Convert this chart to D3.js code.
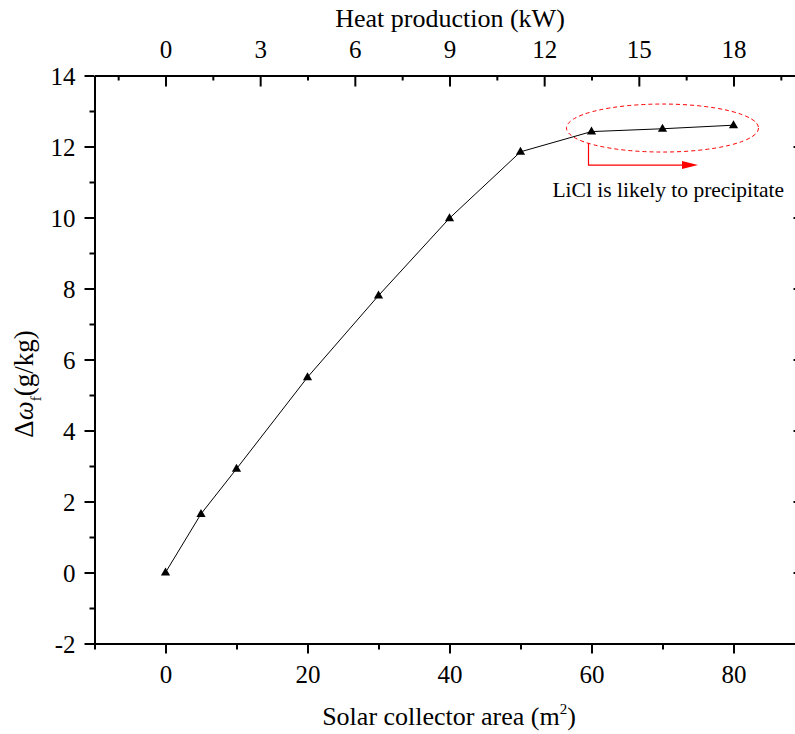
<!DOCTYPE html>
<html><head><meta charset="utf-8">
<script src="https://cdn.jsdelivr.net/npm/d3@7"></script>
<style>
body{margin:0;background:#fff;}
svg{display:block;font-family:"Liberation Serif","Times New Roman",serif;}
</style></head>
<body><svg id="c" width="795" height="734"></svg>
<script>
const area = [0, 5, 10, 20, 30, 40, 50, 60, 70, 80];
const deltaW = [0, 1.65, 2.92, 5.5, 7.8, 9.98, 11.85, 12.42, 12.5, 12.6];
const xTicks = [0, 20, 40, 60, 80];
const xMinor = [-10, 10, 30, 50, 70, 90];
const yTicks = [-2, 0, 2, 4, 6, 8, 10, 12, 14];
const yMinor = [-1, 1, 3, 5, 7, 9, 11, 13];
const topTicks = [0, 3, 6, 9, 12, 15, 18];
const topMinor = [-1.5, 1.5, 4.5, 7.5, 10.5, 13.5, 16.5, 19.5];
const annotation = "LiCl is likely to precipitate";

const FF = '"Liberation Serif","Times New Roman",serif';
const svg = d3.select("#c");
const x = d3.scaleLinear().domain([-10, 90]).range([94.5, 804.5]);
const xTop = d3.scaleLinear().domain([-2.25, 20.25]).range([94.5, 804.5]);
const y = d3.scaleLinear().domain([-2, 14]).range([643.5, 75.5]);

const fs = 25;
const fmt = d => String(d);
function style(g){
  g.attr("font-family", FF);
  g.selectAll(".domain").attr("stroke","#000").attr("stroke-width",2);
  g.selectAll(".tick line").attr("stroke","#000").attr("stroke-width",2);
  g.selectAll("text").style("font-family",FF).attr("font-size",fs).attr("fill","#000");
}
// bottom
const gb = svg.append("g").attr("transform",`translate(0,${y(-2)})`)
  .call(d3.axisBottom(x).tickValues(xTicks).tickSize(10).tickSizeOuter(0).tickFormat(fmt)).call(style);
gb.selectAll(".tick text").attr("dy",null).attr("y",39);
svg.append("g").attr("transform",`translate(0,${y(-2)})`)
  .call(d3.axisBottom(x).tickValues(xMinor).tickSize(6).tickFormat("").tickSizeOuter(0)).call(style);
// left
const gl = svg.append("g").attr("transform",`translate(${x(-10)},0)`)
  .call(d3.axisLeft(y).tickValues(yTicks).tickSize(10).tickSizeOuter(0).tickFormat(fmt)).call(style);
gl.selectAll(".tick text").attr("x",-19).attr("dy","0.34em");
svg.append("g").attr("transform",`translate(${x(-10)},0)`)
  .call(d3.axisLeft(y).tickValues(yMinor).tickSize(5).tickFormat("").tickSizeOuter(0)).call(style);
// top
const gt = svg.append("g").attr("transform",`translate(0,${y(14)})`)
  .call(d3.axisTop(xTop).tickValues(topTicks).tickSize(-11).tickSizeOuter(0).tickFormat(fmt)).call(style);
gt.selectAll(".tick text").attr("dy",null).attr("y",-18);
svg.append("g").attr("transform",`translate(0,${y(14)})`)
  .call(d3.axisTop(xTop).tickValues(topMinor).tickSize(-5).tickFormat("").tickSizeOuter(0)).call(style);
// right
svg.append("g").attr("transform",`translate(${x(90)},0)`)
  .call(d3.axisRight(y).tickValues(yTicks).tickSize(-11).tickFormat("").tickSizeOuter(0)).call(style);
svg.append("g").attr("transform",`translate(${x(90)},0)`)
  .call(d3.axisRight(y).tickValues(yMinor).tickSize(-5).tickFormat("").tickSizeOuter(0)).call(style);

// line
const pts = area.map((a,i)=>[a, deltaW[i]]);
svg.append("path").datum(pts)
  .attr("fill","none").attr("stroke","#000").attr("stroke-width",1)
  .attr("d", d3.line().x(d=>x(d[0])).y(d=>y(d[1])));
svg.selectAll(".m").data(pts).enter().append("path")
  .attr("transform",d=>`translate(${x(d[0])},${y(d[1])})`)
  .attr("d","M0,-5L4.6,3L-4.6,3Z").attr("fill","#000");

// annotation ellipse
const ecy = y(12.52);
svg.append("ellipse").attr("cx",(x(60)+x(80))/2 ).attr("cy",ecy).attr("rx",96).attr("ry",24)
  .attr("fill","none").attr("stroke","#ff0000").attr("stroke-width",1).attr("stroke-dasharray","4,3");
// arrow
const ax0 = x(60)-3, ay0 = ecy+15, ay1 = ecy+37, ax1 = x(75.0);
svg.append("path").attr("d",`M${ax0},${ay0}V${ay1}H${ax1-14}`).attr("fill","none").attr("stroke","#ff0000").attr("stroke-width",1.2);
svg.append("path").attr("d",`M${ax1},${ay1}L${ax1-16},${ay1-4}L${ax1-16},${ay1+4}Z`).attr("fill","#ff0000");
svg.append("text").attr("x",x(54.5)).attr("y",197).attr("font-size",21.5).style("font-family",FF).text(annotation);

// titles
svg.append("text").attr("x",449).attr("y",725).attr("text-anchor","middle").attr("font-size",26).style("font-family",FF)
  .html('Solar collector area (m<tspan dy="-11" font-size="15">2</tspan><tspan dy="11">)</tspan>');
svg.append("text").attr("x",450).attr("y",27).attr("text-anchor","middle").attr("font-size",26).style("font-family",FF)
  .text("Heat production (kW)");
svg.append("text").attr("transform","translate(33,384) rotate(-90)").attr("text-anchor","middle").attr("font-size",27).style("font-family",FF)
  .html('Δ<tspan font-style="italic">ω</tspan><tspan dy="8" font-size="15">f</tspan><tspan dy="-8">(g/kg)</tspan>');
</script></body></html>
